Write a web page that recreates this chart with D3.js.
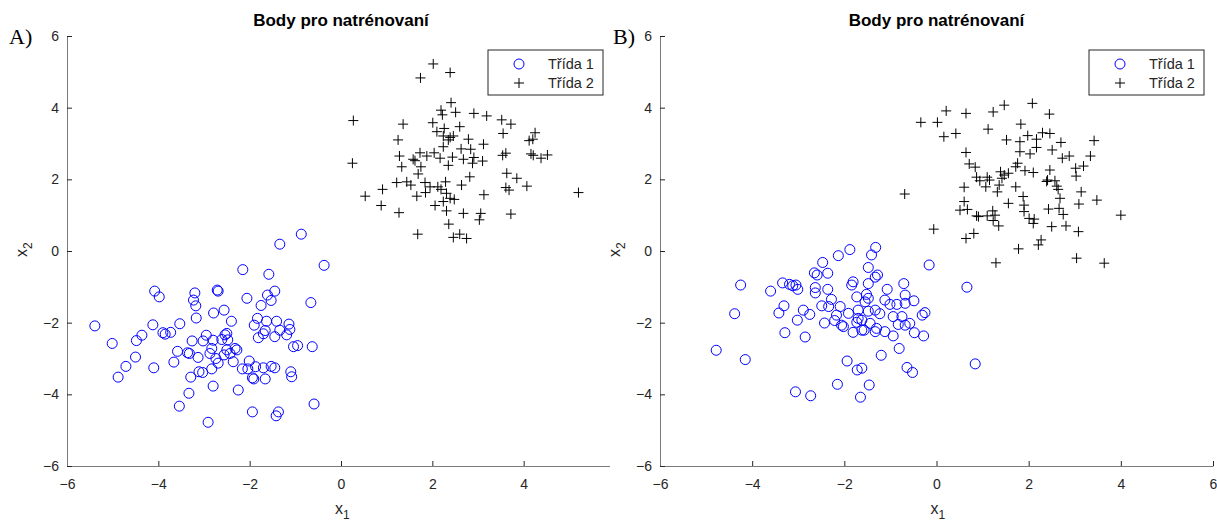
<!DOCTYPE html>
<html lang="cs">
<head>
<meta charset="utf-8">
<script src="https://d3js.org/d3.v7.min.js"></script>
<style>
  body { margin: 0; background: #fff; }
  svg text { font-family: "Liberation Sans", Arial, Helvetica, sans-serif; fill: #262626; }
</style>
</head>
<body>
<svg id="chart" width="1217" height="523"></svg>
<script>
// values
const xTicks = [-6, -4, -2, 0, 2, 4, 6];
const yTicks = [-6, -4, -2, 0, 2, 4, 6];
const legendLabels = ["Třída 1", "Třída 2"];
const titleText = "Body pro natrénovaní";

// panel A, class 1 (circles)
const aClass1 = [
  [-5.39,-2.09],[-5.01,-2.58],[-4.88,-3.52],[-4.71,-3.22],[-4.50,-2.96],[-4.48,-2.50],[-4.36,-2.35],
  [-4.12,-2.06],[-4.10,-3.26],[-4.08,-1.12],[-3.98,-1.28],[-3.90,-2.28],[-3.85,-2.32],[-3.73,-2.27],
  [-3.53,-2.03],[-3.58,-2.80],[-3.66,-3.10],[-3.54,-4.33],[-3.33,-3.97],[-3.29,-3.52],[-3.36,-2.84],
  [-3.32,-2.86],[-3.26,-2.51],[-3.13,-2.97],[-3.17,-1.87],[-3.18,-1.53],[-3.23,-1.37],[-3.20,-1.17],
  [-3.11,-3.37],[-3.03,-3.39],[-3.02,-2.51],[-2.95,-2.35],[-2.91,-4.78],[-2.80,-3.77],[-2.83,-3.29],
  [-2.87,-2.86],[-2.83,-2.72],[-2.80,-2.49],[-2.79,-1.73],[-2.71,-1.09],[-2.74,-3.00],[-2.69,-3.13],
  [-0.87,0.47],[-1.34,0.19],[-0.37,-0.40],[-2.15,-0.52],[-1.58,-0.65],[-2.69,-1.12],[-2.06,-1.32],
  [-1.61,-1.23],[-1.45,-1.12],[-1.53,-1.38],[-1.75,-1.52],[-0.66,-1.44],[-2.56,-1.65],[-2.40,-1.96],
  [-1.83,-1.88],[-1.90,-2.07],[-1.63,-1.96],[-1.41,-1.96],[-1.14,-2.04],[-1.12,-2.19],[-1.34,-2.21],
  [-1.66,-2.22],[-1.70,-2.31],[-1.81,-2.42],[-1.45,-2.39],[-1.19,-2.34],[-2.50,-2.30],[-2.54,-2.34],
  [-2.61,-2.47],[-2.48,-2.48],[-1.04,-2.67],[-0.95,-2.64],[-0.63,-2.67],[-2.32,-2.72],[-2.28,-2.76],
  [-2.50,-2.76],[-2.56,-2.90],[-2.43,-2.86],[-2.36,-3.09],[-2.01,-3.07],[-2.16,-3.29],[-2.04,-3.29],
  [-1.87,-3.23],[-1.70,-3.26],[-1.53,-3.22],[-1.45,-3.26],[-1.10,-3.37],[-1.08,-3.51],[-1.94,-3.54],
  [-1.91,-3.57],[-1.66,-3.57],[-2.25,-3.88],[-0.59,-4.27],[-1.94,-4.49],[-1.37,-4.49],[-1.42,-4.60]
];

// panel A, class 2 (pluses)
const aClass2 = [
  [2.02,5.22],[1.74,4.83],[2.39,4.98],[0.27,3.64],[1.36,3.54],[2.41,4.14],[2.19,3.93],[2.22,3.80],
  [2.51,3.87],[2.01,3.58],[2.26,3.42],[2.60,3.47],[2.10,3.33],[2.24,3.21],[2.39,3.17],[2.46,3.21],
  [2.35,3.10],[1.25,3.10],[2.24,2.91],[2.63,2.85],[1.28,2.65],[1.73,2.74],[1.88,2.65],[2.04,2.74],
  [1.58,2.56],[1.62,2.52],[2.17,2.59],[2.44,2.62],[2.68,2.56],[1.33,2.35],[1.75,2.35],[2.35,2.39],
  [0.25,2.45],[1.69,2.15],[1.22,1.91],[1.44,1.93],[1.53,1.84],[1.84,1.91],[1.95,1.79],[2.12,1.79],
  [2.19,1.72],[2.29,1.93],[2.64,1.84],[1.66,1.53],[1.85,1.63],[2.31,1.61],[2.39,1.47],[2.48,1.44],
  [2.24,1.38],[0.53,1.53],[0.91,1.72],[0.88,1.27],[1.27,1.07],[2.06,1.27],[2.31,1.12],[2.68,1.05],
  [2.36,0.75],[1.68,0.47],[2.46,0.38],[2.60,0.47],
  [2.91,3.84],[3.19,3.77],[3.52,3.66],[3.72,3.54],[3.55,3.28],[4.25,3.30],[2.79,3.12],[4.12,3.08],
  [4.20,3.12],[3.12,2.98],[2.84,2.84],[2.91,2.61],[2.88,2.45],[3.10,2.51],[3.54,2.67],[3.61,2.73],
  [4.16,2.71],[4.21,2.67],[4.38,2.59],[4.52,2.68],[3.63,2.17],[3.85,2.03],[2.82,2.07],[3.61,1.77],
  [3.68,1.70],[4.07,1.81],[3.13,1.57],[5.20,1.63],[3.06,1.05],[3.03,0.87],[3.72,1.03],[2.75,0.35]
];

// panel B, class 1 (circles)
const bClass1 = [
  [-4.25,-0.95],[-3.60,-1.12],[-3.34,-0.89],[-3.19,-0.93],[-3.12,-0.97],[-3.05,-0.95],[-3.01,-1.07],
  [-4.38,-1.75],[-3.42,-1.73],[-3.31,-1.53],[-3.02,-1.93],[-2.89,-1.65],[-2.75,-1.77],[-3.29,-2.28],
  [-2.85,-2.40],[-4.78,-2.77],[-4.15,-3.03],[-3.06,-3.93],[-2.73,-4.04],[-2.47,-0.32],[-2.65,-0.61],
  [-2.59,-0.67],[-2.36,-0.62],[-2.63,-1.02],[-2.63,-1.17],[-2.36,-1.07],[-2.28,-1.35],[-2.49,-1.53],
  [-2.34,-1.55],[-2.43,-2.01],[-2.21,-1.94],[-2.13,-0.13],[-2.15,-3.72],[-2.17,-1.79],
  [-1.88,0.04],[-1.32,0.10],[-1.41,-0.11],[-1.48,-0.46],[-0.16,-0.39],[-1.81,-0.86],[-1.84,-0.95],
  [-1.28,-0.67],[-1.33,-0.73],[-1.48,-0.91],[-1.07,-1.07],[-0.71,-0.91],[0.66,-1.01],[-1.73,-1.28],
  [-1.52,-1.21],[-1.48,-1.32],[-1.55,-1.42],[-1.12,-1.37],[-1.01,-1.49],[-0.86,-1.49],[-0.68,-1.23],
  [-0.68,-1.46],[-0.49,-1.39],[-2.09,-1.55],[-1.91,-1.74],[-1.70,-1.65],[-1.48,-1.68],[-1.33,-1.65],
  [-1.23,-1.75],[-1.70,-1.88],[-1.62,-1.93],[-1.73,-1.99],[-2.06,-2.07],[-2.02,-2.11],[-1.44,-2.02],
  [-0.94,-1.83],[-0.75,-1.83],[-0.83,-2.05],[-0.68,-2.07],[-0.58,-2.02],[-0.31,-1.79],[-0.25,-1.72],
  [-1.81,-2.27],[-1.62,-2.21],[-1.57,-2.21],[-1.30,-2.16],[-1.33,-2.25],[-1.12,-2.25],[-0.94,-2.37],
  [-0.48,-2.28],[-0.28,-2.37],[-0.81,-2.72],[-1.20,-2.91],[-1.94,-3.07],[-1.72,-3.32],[-1.62,-3.27],
  [-0.64,-3.25],[-0.52,-3.39],[0.84,-3.15],[-1.46,-3.74],[-1.65,-4.08]
];

// panel B, class 2 (pluses)
const bClass2 = [
  [0.21,3.91],[0.64,3.84],[-0.34,3.59],[0.02,3.59],[1.23,3.88],[1.47,4.07],[0.16,3.19],[0.42,3.28],
  [1.12,3.40],[1.52,3.10],[0.64,2.75],[0.71,2.43],[0.84,2.34],[0.87,2.06],[0.94,1.96],[1.10,2.06],
  [1.15,1.98],[1.07,1.79],[1.39,2.21],[1.47,2.12],[1.42,2.03],[1.36,1.84],[1.32,1.65],[1.56,2.17],
  [0.60,1.78],[-0.69,1.59],[0.60,1.38],[0.51,1.14],[0.67,1.16],[0.87,0.98],[0.91,0.96],[1.10,0.98],
  [1.22,1.12],[1.27,1.00],[1.23,0.85],[1.35,0.70],[1.56,1.33],[-0.06,0.61],[0.81,0.49],[0.64,0.35],
  [1.29,-0.33],
  [2.08,4.12],[2.45,3.82],[1.83,3.54],[1.81,3.05],[1.98,3.22],[2.17,3.12],[2.30,3.30],[2.46,3.28],
  [2.70,3.03],[3.42,3.08],[1.81,2.77],[2.03,2.71],[2.17,2.89],[2.51,2.82],[2.73,2.59],[2.88,2.65],
  [3.34,2.65],[1.76,2.45],[1.72,2.35],[1.92,2.24],[2.10,2.19],[2.46,2.26],[3.02,2.31],[3.19,2.37],
  [3.03,2.09],[2.41,1.98],[2.39,1.94],[2.57,1.96],[2.61,1.81],[2.64,1.72],[1.72,1.79],[3.14,1.65],
  [2.68,1.47],[3.09,1.31],[3.48,1.42],[1.88,1.52],[1.90,1.28],[1.90,1.10],[2.43,1.17],[2.66,1.19],
  [2.75,1.02],[2.01,0.91],[2.12,0.89],[2.10,0.77],[2.50,0.68],[2.81,0.70],[3.08,0.54],[4.00,1.00],
  [2.27,0.31],[2.21,0.17],[1.78,0.06],[3.04,-0.20],[3.64,-0.34]
];

const svg = d3.select("#chart");
const plotTop = 36, plotBottom = 466;

// panel A is cut off at the right in the original figure
svg.append("defs").append("clipPath").attr("id", "clipA")
  .append("rect").attr("x", 0).attr("y", 0).attr("width", 610).attr("height", 523);

function drawPanel(p) {
  const g = svg.append("g");
  if (p.clip) g.attr("clip-path", `url(#${p.clip})`);

  const x = d3.scaleLinear().domain([-6, 6]).range([p.left, p.right]);
  const y = d3.scaleLinear().domain([-6, 6]).range([plotBottom, plotTop]);

  // axes, ticks pointing inside
  const gx = g.append("g")
    .attr("transform", `translate(0,${plotBottom})`)
    .call(d3.axisBottom(x).tickValues(xTicks).tickSizeInner(-5).tickSizeOuter(0).tickPadding(13));
  const gy = g.append("g")
    .attr("transform", `translate(${p.left},0)`)
    .call(d3.axisLeft(y).tickValues(yTicks).tickSizeInner(-5).tickSizeOuter(0).tickPadding(8));
  [gx, gy].forEach(a => {
    a.select(".domain").attr("stroke", "#7a7a7a");
    a.selectAll(".tick line").attr("stroke", "#262626");
    a.selectAll(".tick text").attr("font-size", 14).attr("fill", "#262626")
      .style("font-family", "'Liberation Sans', Arial, sans-serif");
  });

  // class 2 pluses
  g.selectAll(".plus").data(p.class2).enter().append("path")
    .attr("class", "plus")
    .attr("d", d => `M${x(d[0]) - 5},${y(d[1])}h10M${x(d[0])},${y(d[1]) - 5}v10`)
    .attr("stroke", "#000").attr("stroke-width", 1).attr("fill", "none");

  // class 1 circles
  g.selectAll(".circ").data(p.class1).enter().append("circle")
    .attr("class", "circ")
    .attr("cx", d => x(d[0])).attr("cy", d => y(d[1])).attr("r", 5)
    .attr("stroke", "#0000ff").attr("stroke-width", 1).attr("fill", "none");

  // title and axis labels
  g.append("text").attr("x", x(0)).attr("y", 26).attr("text-anchor", "middle")
    .attr("font-size", 17).attr("font-weight", "bold").style("fill", "#000").text(titleText);

  const xl = g.append("text").attr("x", x(0) - 6).attr("y", 514).attr("font-size", 16);
  xl.append("tspan").text("x");
  xl.append("tspan").attr("dy", 5).attr("font-size", 12).text("1");

  const yl = g.append("text").attr("transform", `translate(${p.left - 40},${y(0) + 6}) rotate(-90)`)
    .attr("font-size", 16);
  yl.append("tspan").text("x");
  yl.append("tspan").attr("dy", 5).attr("font-size", 12).text("2");

  // panel letter
  svg.append("text").attr("x", p.letterX).attr("y", 44)
    .style("font-family", "'Liberation Serif', 'Times New Roman', serif")
    .attr("font-size", 22).style("fill", "#000").text(p.letter);

  // legend
  const lg = g.append("g").attr("transform", `translate(${p.legendX},50)`);
  lg.append("rect").attr("width", 115).attr("height", 45)
    .attr("fill", "#fff").attr("stroke", "#262626").attr("stroke-width", 1);
  lg.append("circle").attr("cx", 31).attr("cy", 14).attr("r", 5)
    .attr("stroke", "#0000ff").attr("fill", "none");
  lg.append("path").attr("d", "M26,33h10M31,28v10").attr("stroke", "#000");
  legendLabels.forEach((t, i) => {
    lg.append("text").attr("x", 60).attr("y", 19 + i * 19).attr("font-size", 14.5).text(t);
  });
}

drawPanel({ left: 67, right: 615, class1: aClass1, class2: aClass2, letter: "A)", letterX: 9, legendX: 488, clip: "clipA" });
drawPanel({ left: 660, right: 1213, class1: bClass1, class2: bClass2, letter: "B)", letterX: 613, legendX: 1089 });
</script>
</body>
</html>
